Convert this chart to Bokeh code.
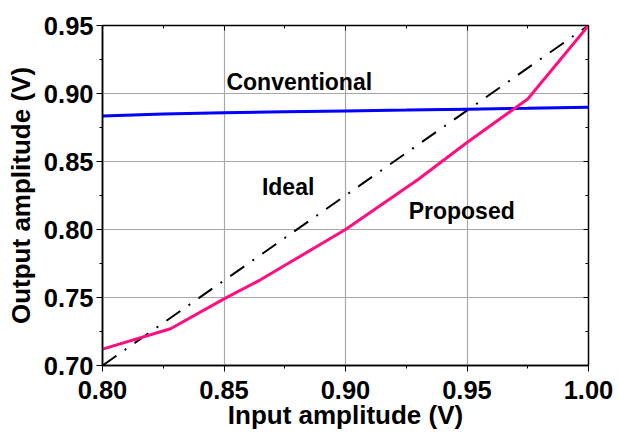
from bokeh.plotting import figure
from bokeh.models import Range1d, LinearAxis, FixedTicker, Label
from bokeh.embed import file_html
from bokeh.resources import INLINE

# ---- data ----
conv_x = [0.80, 0.825, 0.85, 0.875, 0.90, 0.925, 0.95, 0.975, 1.00]
conv_y = [0.8835, 0.8850, 0.8858, 0.8865, 0.8872, 0.8878, 0.8885, 0.8891, 0.8898]

ideal_x = [0.80, 1.00]
ideal_y = [0.70, 0.95]

prop_x = [0.80, 0.828, 0.85, 0.865, 0.90, 0.93, 0.95, 0.975, 1.00]
prop_y = [0.712, 0.727, 0.749, 0.763, 0.800, 0.837, 0.864, 0.896, 0.950]

x_ticks = [0.80, 0.85, 0.90, 0.95, 1.00]
x_tick_labels = ["0.80", "0.85", "0.90", "0.95", "1.00"]
x_minor = [0.825, 0.875, 0.925, 0.975]
y_ticks = [0.70, 0.75, 0.80, 0.85, 0.90, 0.95]
y_tick_labels = ["0.70", "0.75", "0.80", "0.85", "0.90", "0.95"]
y_minor = [0.725, 0.775, 0.825, 0.875, 0.925]

x_title = "Input amplitude (V)"
y_title = "Output amplitude (V)"

label_texts = ["Conventional", "Ideal", "Proposed"]
label_x = [0.851, 0.8656, 0.926]
label_y = [0.9082, 0.8316, 0.8138]

FONT = "Liberation Sans"

p = figure(width=619, height=434, output_backend="svg", toolbar_location=None,
           x_range=Range1d(0.80, 1.00), y_range=Range1d(0.70, 0.95),
           min_border_left=102, min_border_right=31, min_border_top=25,
           min_border_bottom=69)
p.background_fill_color = "white"
p.border_fill_color = "white"
p.outline_line_color = "black"
p.outline_line_width = 1.5

for ax, ticks, minor, labels, title in [
        (p.xaxis[0], x_ticks, x_minor, x_tick_labels, x_title),
        (p.yaxis[0], y_ticks, y_minor, y_tick_labels, y_title)]:
    ax.ticker = FixedTicker(ticks=ticks, minor_ticks=minor)
    ax.major_label_overrides = {t: l for t, l in zip(ticks, labels)}
    ax.axis_label = title
    ax.axis_label_text_font = FONT
    ax.axis_label_text_font_style = "bold"
    ax.axis_label_text_font_size = "26px"
    ax.axis_label_text_color = "black"
    ax.major_label_text_font = FONT
    ax.major_label_text_font_style = "bold"
    ax.major_label_text_font_size = "25.5px"
    ax.major_label_text_color = "black"
    ax.axis_line_color = "black"
    ax.axis_line_width = 1.5
    ax.major_tick_in = 0
    ax.major_tick_out = 6
    ax.minor_tick_in = 0
    ax.minor_tick_out = 3
    ax.major_tick_line_color = "black"
    ax.minor_tick_line_color = "black"

p.yaxis[0].axis_label_standoff = 5
p.yaxis[0].major_label_standoff = 3
p.xaxis[0].major_label_standoff = 9
p.xaxis[0].axis_label_standoff = -2

top = LinearAxis(ticker=FixedTicker(ticks=x_ticks, minor_ticks=x_minor),
                 major_label_text_font_size="0px", major_tick_in=5, major_tick_out=0,
                 minor_tick_in=3, minor_tick_out=0, axis_line_color="black",
                 major_label_text_alpha=0)
right = LinearAxis(ticker=FixedTicker(ticks=y_ticks, minor_ticks=y_minor),
                   major_label_text_font_size="0px", major_tick_in=5, major_tick_out=0,
                   minor_tick_in=3, minor_tick_out=0, axis_line_color="black",
                   major_label_text_alpha=0)
p.add_layout(top, "above")
p.add_layout(right, "right")

p.xgrid.ticker = FixedTicker(ticks=x_ticks)
p.ygrid.ticker = FixedTicker(ticks=y_ticks)
p.grid.grid_line_color = "#a8a8a8"
p.grid.grid_line_width = 1.2

p.line(ideal_x, ideal_y, line_color="black", line_width=2, line_dash="17 10 2 10")
p.line(conv_x, conv_y, line_color="#0000ff", line_width=3)
p.line(prop_x, prop_y, line_color="#ff0f80", line_width=3)

for t, lx, ly in zip(label_texts, label_x, label_y):
    p.add_layout(Label(x=lx, y=ly, text=t, text_font=FONT, text_font_style="bold",
                       text_font_size="23px", text_color="black",
                       text_baseline="alphabetic", text_align="left"))

open("out.html", "w").write(file_html(p, INLINE))
